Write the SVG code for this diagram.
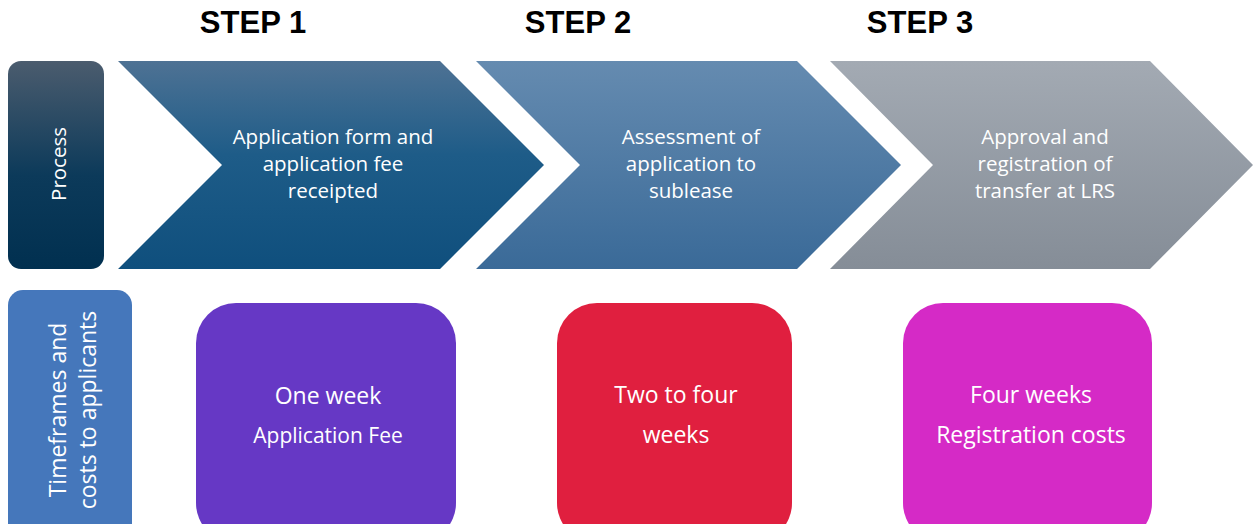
<svg xmlns="http://www.w3.org/2000/svg" width="1253" height="524" viewBox="0 0 1253 524">
<defs>
<linearGradient id="gProc" x1="0" y1="0" x2="0" y2="1"><stop offset="0" stop-color="#4b5c6e"/><stop offset="0.55" stop-color="#0c3a5a"/><stop offset="1" stop-color="#013050"/></linearGradient>
<linearGradient id="gC1" x1="0" y1="0" x2="0" y2="1"><stop offset="0" stop-color="#4e7294"/><stop offset="0.45" stop-color="#1e5c88"/><stop offset="1" stop-color="#0f4f7d"/></linearGradient>
<linearGradient id="gC2" x1="0" y1="0" x2="0" y2="1"><stop offset="0" stop-color="#658bb0"/><stop offset="1" stop-color="#3a6a98"/></linearGradient>
<linearGradient id="gC3" x1="0" y1="0" x2="0" y2="1"><stop offset="0" stop-color="#a3aab3"/><stop offset="1" stop-color="#858d97"/></linearGradient>
</defs>
<style>
.step{font-family:"Liberation Sans",Arial,sans-serif;font-weight:bold;font-size:31px;fill:#000;text-anchor:middle}
.t{font-family:"Open Sans","Noto Sans",sans-serif;fill:#fff;text-anchor:middle}
.c{font-size:20.5px}
.b{font-size:23px}
.s{font-size:21px}
</style>
<g id="steps">
<text class="step" x="253" y="33">STEP 1</text>
<text class="step" x="578" y="33">STEP 2</text>
<text class="step" x="920" y="33">STEP 3</text>
</g>
<g id="process-label">
<rect x="8" y="61" width="96" height="208" rx="13" fill="url(#gProc)"/>
<text class="t c" transform="translate(66,164) rotate(-90)">Process</text>
</g>
<g id="step1">
<polygon points="118,61 440,61 544,165 440,269 118,269 222,165" fill="url(#gC1)"/>
<text class="t c"><tspan x="333" y="144">Application form and</tspan><tspan x="333" y="171">application fee</tspan><tspan x="333" y="198">receipted</tspan></text>
</g>
<g id="step2">
<polygon points="476,61 797,61 901,165 797,269 476,269 580,165" fill="url(#gC2)"/>
<text class="t c"><tspan x="691" y="144">Assessment of</tspan><tspan x="691" y="171">application to</tspan><tspan x="691" y="198">sublease</tspan></text>
</g>
<g id="step3">
<polygon points="830,61 1150,61 1253,165 1150,269 830,269 933,165" fill="url(#gC3)"/>
<text class="t c"><tspan x="1045" y="144">Approval and</tspan><tspan x="1045" y="171">registration of</tspan><tspan x="1045" y="198">transfer at LRS</tspan></text>
</g>
<g id="timeframes-label">
<rect x="8" y="290" width="124" height="250" rx="15" fill="#4577bb"/>
<text class="t b" transform="translate(66,410) rotate(-90)">Timeframes and</text>
<text class="t b" transform="translate(96,410) rotate(-90)">costs to applicants</text>
</g>
<g id="time1">
<rect x="196" y="303" width="260" height="240" rx="40" fill="#6638c5"/>
<text class="t b" x="328" y="404">One week</text>
<text class="t s" x="328" y="443">Application Fee</text>
</g>
<g id="time2">
<rect x="557" y="303" width="235" height="240" rx="40" fill="#e01f3f"/>
<text class="t b"><tspan x="676" y="403">Two to four</tspan><tspan x="676" y="443">weeks</tspan></text>
</g>
<g id="time3">
<rect x="903" y="303" width="249" height="240" rx="40" fill="#d52ac6"/>
<text class="t b"><tspan x="1031" y="403">Four weeks</tspan><tspan x="1031" y="443">Registration costs</tspan></text>
</g>
<g id="connectors"/>
</svg>
